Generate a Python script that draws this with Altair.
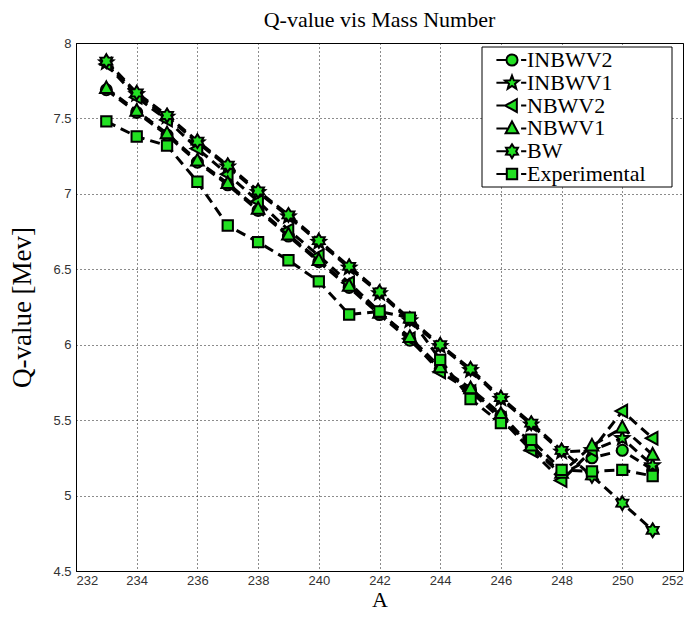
import math
import altair as alt
import pandas as pd

# ---------------- data ----------------
A = [233, 234, 235, 236, 237, 238, 239, 240, 241, 242,
     243, 244, 245, 246, 247, 248, 249, 250, 251]

INBWV2 = [7.69, 7.54, 7.39, 7.21, 7.06, 6.89, 6.72, 6.55, 6.38, 6.20,
          6.03, 5.84, 5.70, 5.53, 5.32, 5.14, 5.25, 5.30, 5.17]
INBWV1 = [7.87, 7.66, 7.51, 7.34, 7.18, 7.01, 6.85, 6.68, 6.51, 6.34,
          6.16, 5.99, 5.83, 5.64, 5.47, 5.29, 5.30, 5.38, 5.20]
NBWV2 = [7.86, 7.64, 7.49, 7.30, 7.13, 6.95, 6.76, 6.59, 6.41, 6.22,
         6.04, 5.82, 5.69, 5.51, 5.30, 5.10, 5.30, 5.56, 5.38]
NBWV1 = [7.70, 7.55, 7.40, 7.22, 7.07, 6.90, 6.73, 6.56, 6.39, 6.21,
         6.05, 5.85, 5.71, 5.54, 5.33, 5.15, 5.33, 5.45, 5.27]
BW = [7.88, 7.67, 7.52, 7.35, 7.19, 7.02, 6.86, 6.69, 6.52, 6.35,
      6.17, 6.00, 5.84, 5.65, 5.48, 5.30, 5.13, 4.95, 4.77]
Experimental = [7.48, 7.38, 7.32, 7.08, 6.79, 6.68, 6.56, 6.42, 6.20, 6.22,
                6.18, 5.90, 5.64, 5.48, 5.37, 5.17, 5.16, 5.17, 5.13]

SERIES = ["INBWV2", "INBWV1", "NBWV2", "NBWV1", "BW", "Experimental"]
VALUES = [INBWV2, INBWV1, NBWV2, NBWV1, BW, Experimental]
MARKERS = ["circle", "pentagram", "triangle-left", "triangle-up", "hexagram", "square"]

X_TICKS = list(range(232, 253, 2))
Y_TICKS = [4.5, 5, 5.5, 6, 6.5, 7, 7.5, 8]

rows = []
for k, (name, vals) in enumerate(zip(SERIES, VALUES)):
    for a, v in zip(A, vals):
        rows.append({"A": a, "Q": v, "series": name, "k": k})
df = pd.DataFrame(rows)
legend_df = pd.DataFrame({"series": SERIES})

# ---------------- marker shapes (unit paths) ----------------
def poly(pts):
    return "M" + "L".join(f"{x:.3f},{y:.3f}" for x, y in pts) + "Z"


def star(n, ro, ri):
    pts = []
    for i in range(2 * n):
        ang = -math.pi / 2 + i * math.pi / n
        r = ro if i % 2 == 0 else ri
        pts.append((r * math.cos(ang), r * math.sin(ang)))
    return pts


def marker(kind, s=1.0):
    if kind == "circle":
        r = 0.8 * s
        return f"M{r:.3f},0A{r:.3f},{r:.3f} 0 1,1 {-r:.3f},0A{r:.3f},{r:.3f} 0 1,1 {r:.3f},0Z"
    if kind == "square":
        h = 0.75 * s
        return poly([(-h, -h), (h, -h), (h, h), (-h, h)])
    if kind == "triangle-up":
        return poly([(0, -1.0 * s), (0.92 * s, 0.7 * s), (-0.92 * s, 0.7 * s)])
    if kind == "triangle-left":
        return poly([(-1.0 * s, 0), (0.7 * s, -0.92 * s), (0.7 * s, 0.92 * s)])
    if kind == "pentagram":
        return poly([(x * s, y * s) for x, y in star(5, 1.05, 0.45)])
    if kind == "hexagram":
        return poly([(x * s, y * s) for x, y in star(6, 1.0, 0.6)])
    return kind


PLOT_PATHS = [marker(m) for m in MARKERS]
LEGEND_PATHS = [marker(m, 0.8) + " M-1.8,0H-0.55 M1.05,0H1.65" for m in MARKERS]

GREEN = "#22e022"
SERIF = "Liberation Serif"
SANS = "Liberation Sans"

x_enc = alt.X(
    "A:Q",
    scale=alt.Scale(domain=[232, 252], nice=False, zero=False),
    axis=alt.Axis(
        values=X_TICKS, title="A", grid=True, gridDash=[1, 3], gridColor="black",
        gridOpacity=0.9, ticks=False, domainColor="black", labelFont=SANS,
        labelFontSize=13, labelColor="#333", labelPadding=3, titleFont=SERIF,
        titleFontSize=22, titleFontWeight="normal", titleColor="black", titlePadding=2,
    ),
)
y_enc = alt.Y(
    "Q:Q",
    scale=alt.Scale(domain=[4.5, 8], nice=False, zero=False),
    axis=alt.Axis(
        values=Y_TICKS, labelExpr="datum.value", title="Q-value [Mev]", grid=True,
        gridDash=[1, 3], gridColor="black", gridOpacity=0.9, ticks=False,
        domainColor="black", labelFont=SANS, labelFontSize=13, labelColor="#333",
        labelPadding=5, titleFont=SERIF, titleFontSize=27, titleFontWeight="normal",
        titleColor="black", titlePadding=16,
    ),
)

lines = alt.Chart(df).mark_line(
    color="black", strokeWidth=3, strokeDash=[10, 6]
).encode(x=x_enc, y=y_enc, detail="series:N", order="A:Q")

points = alt.Chart(df).mark_point(
    filled=True, fill=GREEN, stroke="black", strokeWidth=2, size=190, opacity=1
).encode(
    x=x_enc, y=y_enc,
    shape=alt.Shape("series:N", scale=alt.Scale(domain=SERIES, range=PLOT_PATHS), legend=None),
    order="k:Q",
)

plot = alt.layer(lines, points)

# ---------------- legend (drawn as a guide inside the plot) ----------------
leg_y = alt.Y("series:N", scale=alt.Scale(type="point", domain=SERIES, range=[17, 131], padding=0),
              axis=None)

leg_box = alt.Chart(pd.DataFrame({"b": [0]})).mark_rect(
    fill="white", stroke="black", strokeWidth=1
).encode(x=alt.value(406), x2=alt.value(596), y=alt.value(4), y2=alt.value(144))

leg_sym = alt.Chart(legend_df).mark_point(
    filled=True, fill=GREEN, stroke="black", strokeWidth=2, size=300, opacity=1
).encode(
    x=alt.value(436), y=leg_y,
    shape=alt.Shape("series:N", scale=alt.Scale(domain=SERIES, range=LEGEND_PATHS), legend=None),
)

leg_txt = alt.Chart(legend_df).mark_text(
    align="left", baseline="middle", font=SERIF, fontSize=22, color="black"
).encode(x=alt.value(451), y=leg_y, text="series:N")

legend = alt.layer(leg_box, leg_sym, leg_txt)

chart = (
    alt.layer(plot, legend)
    .resolve_scale(y="independent", shape="independent")
    .properties(
        width=607, height=528,
        title=alt.TitleParams(
            "Q-value vis Mass Number", font=SERIF, fontSize=22,
            fontWeight="normal", color="black", offset=5, anchor="middle",
        ),
        autosize=alt.AutoSizeParams(type="none"),
        padding={"left": 68, "top": 35, "right": 2, "bottom": 40},
    )
    .configure_view(stroke="black", strokeWidth=1)
)

chart.save("out.html", embed_options={"renderer": "svg", "actions": False})
